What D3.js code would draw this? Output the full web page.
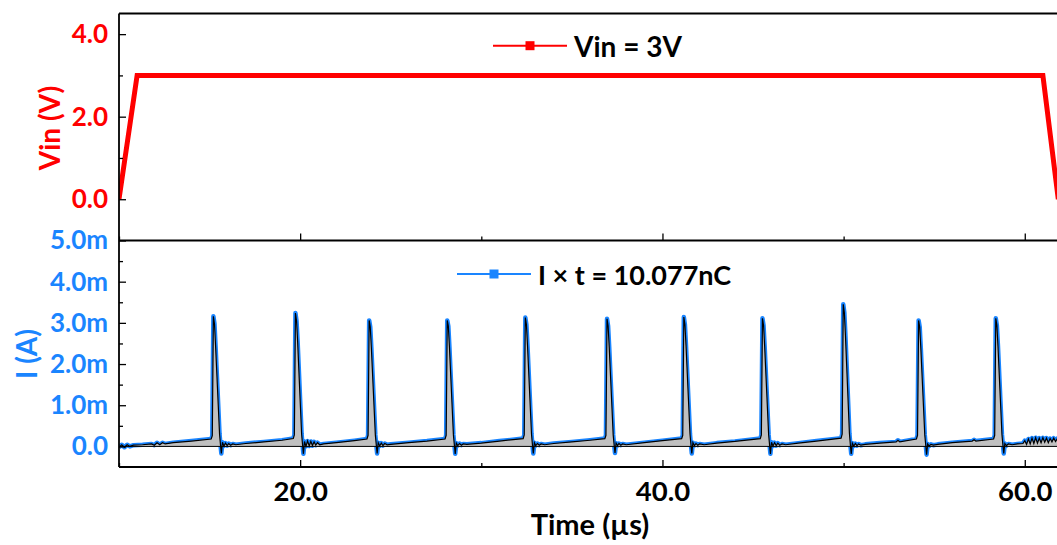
<!DOCTYPE html>
<html lang="en">
<head>
<meta charset="UTF-8">
<title>Vin and I vs Time</title>
<script src="https://d3js.org/d3.v7.min.js"></script>
<style>
  body { margin: 0; background: #fff; }
  svg { display: block; }
  text { font-family: Lato, "Open Sans", sans-serif; font-weight: bold; }
</style>
</head>
<body>
<svg id="canvas"></svg>
<script>
// ---- data ----
let vinTime = [10, 11.0, 61.0, 61.85]
let vinValues = [0, 3, 3, 0]

// current trace, [time (us), current (mA)]
let currentTrace = [
  [10.0,-0.02],[10.15,0.04],[10.3,-0.02],[10.45,0.04],[10.6,0.0],[10.8,0.03],[11.3,0.04],[11.8,0.06],
  [11.95,0.03],[12.1,0.09],[12.25,0.04],[12.4,0.09],[12.55,0.06],[13.0,0.09],[14.0,0.13],
  [15.09,0.18],[15.15,0.26],[15.21,3.16],[15.27,2.98],[15.33,2.45],[15.55,0.30],[15.61,0.0],[15.65,-0.17],
  [15.71,0.10],[15.79,0.01],[15.88,0.08],[15.97,0.02],[16.06,0.07],[16.16,0.03],[16.28,0.06],[16.45,0.04],
  [17.0,0.07],[18.0,0.11],[19.0,0.15],[19.62,0.19],
  [19.68,0.28],[19.74,3.24],[19.80,3.05],[19.86,2.55],[20.08,0.30],[20.14,0.0],[20.18,-0.18],[20.24,0.12],
  [20.32,0.0],[20.41,0.13],[20.50,0.01],[20.59,0.12],[20.68,0.02],[20.77,0.11],[20.86,0.03],[20.96,0.09],
  [21.08,0.04],[21.3,0.06],[22.0,0.09],[23.0,0.14],[23.69,0.18],
  [23.75,0.27],[23.81,3.06],[23.87,2.90],[23.93,2.40],[24.15,0.28],[24.21,0.0],[24.25,-0.17],[24.31,0.09],
  [24.39,0.01],[24.48,0.08],[24.57,0.02],[24.67,0.07],[24.8,0.04],[25.0,0.05],[26.0,0.09],[27.0,0.13],[28.0,0.18],
  [28.06,0.27],[28.12,3.06],[28.18,2.92],[28.24,2.42],[28.46,0.28],[28.52,0.0],[28.56,-0.18],[28.62,0.08],
  [28.70,0.02],[28.8,0.07],[28.9,0.03],[29.0,0.06],[29.2,0.05],[30.0,0.08],[31.0,0.13],[32.31,0.19],
  [32.37,0.28],[32.43,3.13],[32.49,2.96],[32.55,2.45],[32.77,0.30],[32.83,0.0],[32.87,-0.17],[32.93,0.09],
  [33.0,0.02],[33.1,0.07],[33.2,0.03],[33.3,0.06],[33.5,0.04],[34.0,0.07],[35.0,0.11],[36.0,0.15],[36.82,0.19],
  [36.88,0.27],[36.94,3.10],[37.0,2.92],[37.06,2.42],[37.28,0.28],[37.34,0.0],[37.38,-0.16],[37.44,0.08],
  [37.52,0.02],[37.6,0.07],[37.7,0.03],[37.8,0.06],[38.0,0.04],[39.0,0.09],[40.0,0.14],[41.06,0.19],
  [41.12,0.27],[41.18,3.14],[41.24,2.96],[41.3,2.45],[41.52,0.30],[41.58,0.0],[41.62,-0.17],[41.68,0.09],
  [41.76,0.02],[41.85,0.07],[41.95,0.03],[42.05,0.06],[42.3,0.04],[43.0,0.08],[44.0,0.12],[45.4,0.19],
  [45.46,0.28],[45.52,3.11],[45.58,2.94],[45.64,2.44],[45.86,0.29],[45.92,0.0],[45.96,-0.18],[46.02,0.10],
  [46.1,0.01],[46.19,0.09],[46.28,0.02],[46.37,0.08],[46.47,0.03],[46.6,0.06],[46.8,0.04],[47.5,0.08],
  [48.5,0.13],[49.86,0.20],
  [49.92,0.30],[49.98,3.45],[50.04,3.25],[50.1,2.70],[50.32,0.32],[50.38,0.0],[50.42,-0.18],[50.48,0.08],
  [50.56,0.01],[50.65,0.07],[50.74,0.02],[50.83,0.06],[50.95,0.03],[51.2,0.05],[52.0,0.08],[52.9,0.11],
  [53.0,0.15],[53.1,0.11],[54.02,0.18],
  [54.08,0.27],[54.14,3.06],[54.2,2.90],[54.26,2.40],[54.48,0.28],[54.54,0.0],[54.58,-0.20],[54.64,0.06],
  [54.72,0.01],[54.82,0.05],[54.95,0.03],[55.2,0.05],[56.0,0.09],[57.1,0.13],[57.2,0.16],[57.3,0.13],[58.28,0.18],
  [58.34,0.27],[58.40,3.11],[58.46,2.94],[58.52,2.44],[58.74,0.29],[58.8,0.0],[58.84,-0.17],[58.9,0.07],
  [58.98,0.02],[59.1,0.06],[59.3,0.04],[59.6,0.06],[59.9,0.07],[60.0,0.14],[60.1,0.05],[60.2,0.18],
  [60.3,0.06],[60.4,0.20],[60.5,0.07],[60.6,0.21],[60.7,0.08],[60.8,0.20],[60.9,0.09],[61.0,0.21],
  [61.1,0.10],[61.2,0.20],[61.3,0.09],[61.4,0.19],[61.5,0.11],[61.6,0.20],[61.7,0.12],[61.8,0.19],
  [61.9,0.10],[62.0,0.15]
]

let xTicks = [20, 40, 60]
let xMinorTicks = [10, 30, 50]
let vinTicks = [0, 2, 4]
let vinMinorTicks = [1, 3]
let iTicks = [0, 1, 2, 3, 4, 5]
let iMinorTicks = [0.5, 1.5, 2.5, 3.5, 4.5]

let vinLabel = 'Vin = 3V'
let iLabel = 'I \u00d7 t = 10.077nC'

// ---- layout ----
let width = 1057
let height = 545
let left = 119
let right = 1061
let topY = 13.5
let midY = 240.5
let bottomY = 467

let red = '#ff0000'
let blue = '#1a85ff'

let svg = d3.select('#canvas').attr('width', width).attr('height', height)

let xScale = d3.scaleLinear().domain([10, 62]).range([left, right])
let vScale = d3.scaleLinear().domain([-1, 4.5]).range([midY, topY])
let iScale = d3.scaleLinear().domain([-0.5, 5]).range([bottomY, midY])

let defs = svg.append('defs')
defs.append('clipPath').attr('id', 'clipTop')
    .append('rect').attr('x', left).attr('y', topY).attr('width', right - left).attr('height', midY - topY)
defs.append('clipPath').attr('id', 'clipBot')
    .append('rect').attr('x', left).attr('y', midY).attr('width', right - left).attr('height', bottomY - midY)

// ---- top panel: Vin ----
let vinData = vinTime.map((t, i) => [t, vinValues[i]])
svg.append('path')
   .datum(vinData)
   .attr('clip-path', 'url(#clipTop)')
   .attr('fill', 'none')
   .attr('stroke', red)
   .attr('stroke-width', 5)
   .attr('d', d3.line().x(d => xScale(d[0])).y(d => vScale(d[1])))

// ---- bottom panel: current ----
let gBot = svg.append('g').attr('clip-path', 'url(#clipBot)')
let iLine = d3.line().x(d => xScale(d[0])).y(d => iScale(d[1]))
let iArea = d3.area().x(d => xScale(d[0])).y0(iScale(0)).y1(d => iScale(d[1]))

gBot.append('path').datum(currentTrace)
    .attr('fill', 'none').attr('stroke', blue).attr('stroke-width', 4.5)
    .attr('stroke-linejoin', 'round')
    .attr('d', iLine)
gBot.append('path').datum(currentTrace)
    .attr('fill', '#c0c0c0')
    .attr('d', iArea)
gBot.append('line')
    .attr('x1', left).attr('x2', right)
    .attr('y1', iScale(0)).attr('y2', iScale(0))
    .attr('stroke', '#000').attr('stroke-width', 1)
gBot.append('path').datum(currentTrace)
    .attr('fill', 'none').attr('stroke', '#000').attr('stroke-width', 1.2)
    .attr('d', iLine)

// ---- axes ----
let styleAxis = (g, color, size) => {
  g.select('.domain').remove()
  g.selectAll('.tick line').attr('stroke', '#000').attr('stroke-width', 1.3)
  g.selectAll('.tick text')
   .attr('fill', color)
   .style('font-size', (size || 26) + 'px')
   .style('font-family', 'Lato, sans-serif')
   .style('font-weight', 'bold')
}

// x ticks on the bottom of both panels
let xAxisBot = svg.append('g').attr('transform', 'translate(0,' + bottomY + ')')
    .call(d3.axisBottom(xScale).tickValues(xTicks).tickSize(-7).tickPadding(14).tickFormat(d3.format('.1f')))
styleAxis(xAxisBot, '#000', 27.5)
let xAxisBotMinor = svg.append('g').attr('transform', 'translate(0,' + bottomY + ')')
    .call(d3.axisBottom(xScale).tickValues(xMinorTicks).tickSize(-4).tickFormat(''))
styleAxis(xAxisBotMinor, '#000')
let xAxisMid = svg.append('g').attr('transform', 'translate(0,' + midY + ')')
    .call(d3.axisBottom(xScale).tickValues(xTicks).tickSize(-7).tickFormat(''))
styleAxis(xAxisMid, '#000')
let xAxisMidMinor = svg.append('g').attr('transform', 'translate(0,' + midY + ')')
    .call(d3.axisBottom(xScale).tickValues(xMinorTicks).tickSize(-4).tickFormat(''))
styleAxis(xAxisMidMinor, '#000')

// y axis, Vin
let vAxis = svg.append('g').attr('transform', 'translate(' + left + ',0)')
    .call(d3.axisLeft(vScale).tickValues(vinTicks).tickSize(-7).tickPadding(11).tickFormat(d3.format('.1f')))
styleAxis(vAxis, red)
let vAxisMinor = svg.append('g').attr('transform', 'translate(' + left + ',0)')
    .call(d3.axisLeft(vScale).tickValues(vinMinorTicks).tickSize(-4).tickFormat(''))
styleAxis(vAxisMinor, red)

// y axis, current (mA shown with an m suffix)
let iAxis = svg.append('g').attr('transform', 'translate(' + left + ',0)')
    .call(d3.axisLeft(iScale).tickValues(iTicks).tickSize(-7).tickPadding(11)
    .tickFormat(d => d === 0 ? '0.0' : d3.format('.1f')(d) + 'm'))
styleAxis(iAxis, blue)
let iAxisMinor = svg.append('g').attr('transform', 'translate(' + left + ',0)')
    .call(d3.axisLeft(iScale).tickValues(iMinorTicks).tickSize(-4).tickFormat(''))
styleAxis(iAxisMinor, blue)

// frame lines
let frame = svg.append('g').attr('stroke', '#000').attr('stroke-width', 1.8).attr('fill', 'none')
frame.append('line').attr('x1', left).attr('x2', right).attr('y1', topY).attr('y2', topY)
frame.append('line').attr('x1', left).attr('x2', right).attr('y1', midY).attr('y2', midY)
frame.append('line').attr('x1', left).attr('x2', right).attr('y1', bottomY).attr('y2', bottomY)
frame.append('line').attr('x1', left).attr('x2', left).attr('y1', topY).attr('y2', bottomY)
frame.append('line').attr('x1', right).attr('x2', right).attr('y1', topY).attr('y2', bottomY)

// ---- titles ----
svg.append('text')
   .attr('x', (left + right) / 2).attr('y', 535)
   .attr('text-anchor', 'middle')
   .style('font-size', '29px')
   .text('Time (\u00b5s)')

svg.append('text')
   .attr('transform', 'translate(60,128) rotate(-90)')
   .attr('text-anchor', 'middle')
   .attr('fill', red)
   .style('font-size', '28px')
   .text('Vin (V)')

svg.append('text')
   .attr('transform', 'translate(37,354) rotate(-90)')
   .attr('text-anchor', 'middle')
   .attr('fill', blue)
   .style('font-size', '28px')
   .text('I (A)')

// ---- legends ----
let makeLegend = (x0, y0, color, label, size) => {
  let g = svg.append('g')
  g.append('line').attr('x1', x0).attr('x2', x0 + 74).attr('y1', y0).attr('y2', y0)
   .attr('stroke', color).attr('stroke-width', 2)
  g.append('rect').attr('x', x0 + 37 - 4.5).attr('y', y0 - 4.5).attr('width', 9).attr('height', 9)
   .attr('fill', color)
  g.append('text').attr('x', x0 + 81).attr('y', y0 + 11)
   .attr('fill', '#000').style('font-size', size + 'px')
   .text(label)
}
makeLegend(493, 45.7, red, vinLabel, 28)
makeLegend(457, 274, blue, iLabel, 27)
</script>
</body>
</html>
